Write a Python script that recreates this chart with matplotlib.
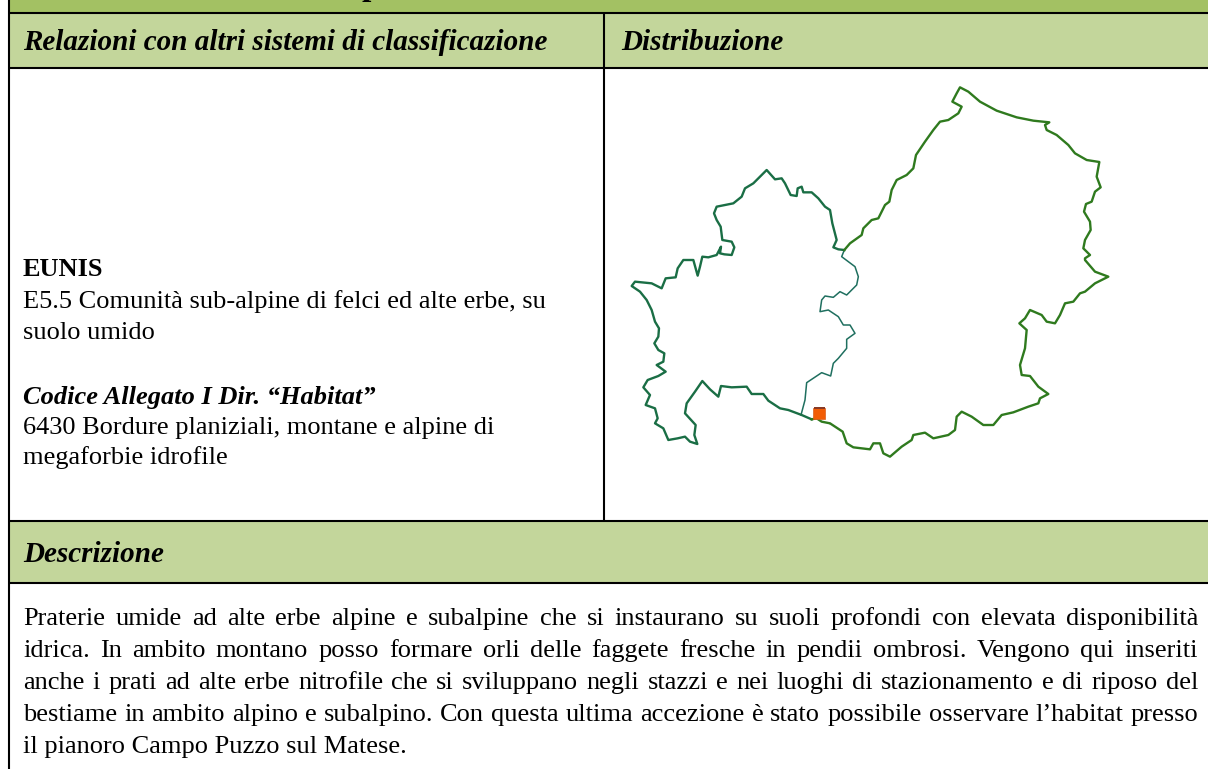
import numpy as np
import matplotlib
matplotlib.use('Agg')
import matplotlib.pyplot as plt
from matplotlib.patches import Rectangle

plt.rcParams['font.family'] = ['Liberation Serif', 'DejaVu Serif']

W, H = 1208, 769

# band colours
title_green = '#a3c163'
head_green = '#c3d69b'

# text of the sheet
head_left = 'Relazioni con altri sistemi di classificazione'
head_right = 'Distribuzione'
head_desc = 'Descrizione'
eunis_lines = ['E5.5 Comunità sub-alpine di felci ed alte erbe, su', 'suolo umido']
code_lines = ['6430 Bordure planiziali, montane e alpine di', 'megaforbie idrofile']
desc_lines = [
    'Praterie umide ad alte erbe alpine e subalpine che si instaurano su suoli profondi con elevata disponibilità',
    'idrica. In ambito montano posso formare orli delle faggete fresche in pendii ombrosi. Vengono qui inseriti',
    'anche i prati ad alte erbe nitrofile che si sviluppano negli stazzi e nei luoghi di stazionamento e di riposo del',
    'bestiame in ambito alpino e subalpino. Con questa ultima accezione è stato possibile osservare l’habitat presso',
]
desc_last = 'il pianoro Campo Puzzo sul Matese.'

# map outlines in stretches (x, y at 3x from a local corner)
west_north_x = [658,640,625,635,622,615,600,580,560,535,530,518,515,497,480,470,450,425,410,385,360,350,325,275,267,275,287,292,320,328,320,298,285,288,275,250,232,225,218,205,175,158,152,122,110,80,30,20,45,65]
west_north_y = [270,268,262,240,190,150,140,115,97,97,80,85,108,105,70,55,58,30,45,70,85,110,130,140,160,180,200,240,245,262,285,283,280,260,285,292,290,320,347,300,300,325,352,355,385,370,365,378,395,420]
west_south_x = [80,90,102,100,88,100,118,115,95,122,100,68,55,75,62,90,98,90,115,130,158,180,195,217,208,212,180,185,210,232,255,280,288,320,365,380,415,430,465,490,530,560]
west_south_y = [30,65,85,110,130,150,160,185,195,215,228,240,262,285,315,325,355,370,385,420,415,410,425,432,405,375,340,310,275,243,268,290,258,262,260,282,282,302,325,330,345,358]
inner_north_x = [658,650,690,700,695,675,665,645,625,600,590]
inner_north_y = [270,290,320,350,375,395,405,395,412,408,420]
inner_south_x = [585,610,640,655,675,690,665,665,640,625,617,590,545,540,528]
inner_south_y = [35,30,50,75,75,100,118,145,175,190,228,218,248,300,345]
east_north_x = [43,60,95,100,125,145,165,178,185,200,230,250,258,285,310,330,355,385,395,367,380,390,415,450,500,560,610,658,645,650,680,715,735,770,808,800,812,795,785,768,762,780,782,765,760,780,765]
east_north_y = [510,490,465,445,420,415,375,365,330,300,285,265,225,185,150,125,120,100,80,65,40,22,35,65,92,112,122,127,135,150,165,195,220,240,246,290,322,335,365,372,395,425,450,480,505,525,535]
east_south_x = [765,795,835,795,765,750,730,705,690,675,650,635,600,585,568,590,585,570,575,600,625,655,630,625,595,550,515,490,460,425,395,380,375,355,310,285,250,245,215,180,160,150,130,120,70,50,38,0]
east_south_y = [0,35,50,70,95,100,125,130,165,190,185,165,150,175,190,210,265,315,345,348,380,402,415,430,440,457,465,495,495,470,455,470,510,525,535,518,525,540,560,590,580,550,550,568,562,550,515,490]
east_tail_x = [615,590,575,560]
east_tail_y = [370,365,355,358]


def to_px(xs, ys, cx, cy):
    return cx + np.array(xs) / 3, cy + np.array(ys) / 3


fig = plt.figure(figsize=(W / 100, H / 100), dpi=100)
ax = fig.add_axes([0, 0, 1, 1])
ax.set_xlim(0, W)
ax.set_ylim(H, 0)
ax.axis('off')

# bands
ax.add_patch(Rectangle((9, 0), W - 9, 12, color=title_green, lw=0))
ax.add_patch(Rectangle((9, 13), W - 9, 55, color=head_green, lw=0))
ax.add_patch(Rectangle((9, 521), W - 9, 62, color=head_green, lw=0))

# rules
for y in [12.5, 67.5, 520.5, 583]:
    ax.plot([8, W], [y, y], color='black', lw=1.5, solid_capstyle='butt')
ax.plot([8.5, 8.5], [0, H], color='black', lw=1.5, solid_capstyle='butt')
ax.plot([603.5, 603.5], [13, 520], color='black', lw=1.5, solid_capstyle='butt')

# what is left of the title, cut by the top edge
ax.text(361, -5, 'p', fontsize=24, fontweight='bold', va='baseline', color='black')

# headers
head_kw = dict(fontsize=21, fontweight='bold', fontstyle='italic', va='baseline', color='black')
ax.text(23, 50, head_left, **head_kw)
ax.text(621, 50, head_right, **head_kw)
ax.text(23, 562, head_desc, **head_kw)

# left cell
body_kw = dict(fontsize=19, va='baseline', color='black')
ax.text(23, 276, 'EUNIS', fontweight='bold', **body_kw)
ax.text(23, 308, eunis_lines[0], **body_kw)
ax.text(23, 339, eunis_lines[1], **body_kw)
ax.text(23, 404, 'Codice Allegato I Dir. “Habitat”', fontweight='bold', fontstyle='italic', **body_kw)
ax.text(23, 434, code_lines[0], **body_kw)
ax.text(23, 464, code_lines[1], **body_kw)

# justified description
fig.canvas.draw()
rend = fig.canvas.get_renderer()
x0, x1 = 23, 1198
base_y = [625, 657, 689, 721, 753]
for line, y in zip(desc_lines, base_y):
    words = line.split(' ')
    ws = []
    for w in words:
        t = ax.text(0, 0, w, **body_kw)
        ws.append(t.get_window_extent(rend).width)
        t.remove()
    gap = (x1 - x0 - sum(ws)) / (len(words) - 1)
    x = x0
    for w, wd in zip(words, ws):
        ax.text(x, y, w, **body_kw)
        x += wd + gap
ax.text(x0, base_y[4], desc_last, **body_kw)

# map
ex = np.concatenate([to_px(east_north_x, east_north_y, 830, 80)[0],
                     to_px(east_south_x, east_south_y, 830, 260)[0],
                     to_px(east_tail_x, east_tail_y, 625, 300)[0]])
ey = np.concatenate([to_px(east_north_x, east_north_y, 830, 80)[1],
                     to_px(east_south_x, east_south_y, 830, 260)[1],
                     to_px(east_tail_x, east_tail_y, 625, 300)[1]])
wx = np.concatenate([to_px(west_north_x, west_north_y, 625, 160)[0],
                     to_px(west_south_x, west_south_y, 625, 300)[0]])
wy = np.concatenate([to_px(west_north_x, west_north_y, 625, 160)[1],
                     to_px(west_south_x, west_south_y, 625, 300)[1]])
ix = np.concatenate([to_px(inner_north_x, inner_north_y, 625, 160)[0],
                     to_px(inner_south_x, inner_south_y, 625, 300)[0]])
iy = np.concatenate([to_px(inner_north_x, inner_north_y, 625, 160)[1],
                     to_px(inner_south_x, inner_south_y, 625, 300)[1]])
ax.plot(ix, iy, color='#1f6f5f', lw=1.1, solid_joinstyle='round')
ax.plot(wx, wy, color='#1a6e45', lw=1.7, solid_joinstyle='round')
ax.plot(ex, ey, color='#2f7a1e', lw=1.7, solid_joinstyle='round')

# site marker
ax.add_patch(Rectangle((812.5, 407.5), 12, 11, facecolor='#f25c05', edgecolor='#d9601f', lw=0.5, zorder=4))
ax.add_patch(Rectangle((813.5, 406.8), 11, 2, facecolor='#8a3a24', lw=0, zorder=5))

fig.savefig('out.png', dpi=100)
